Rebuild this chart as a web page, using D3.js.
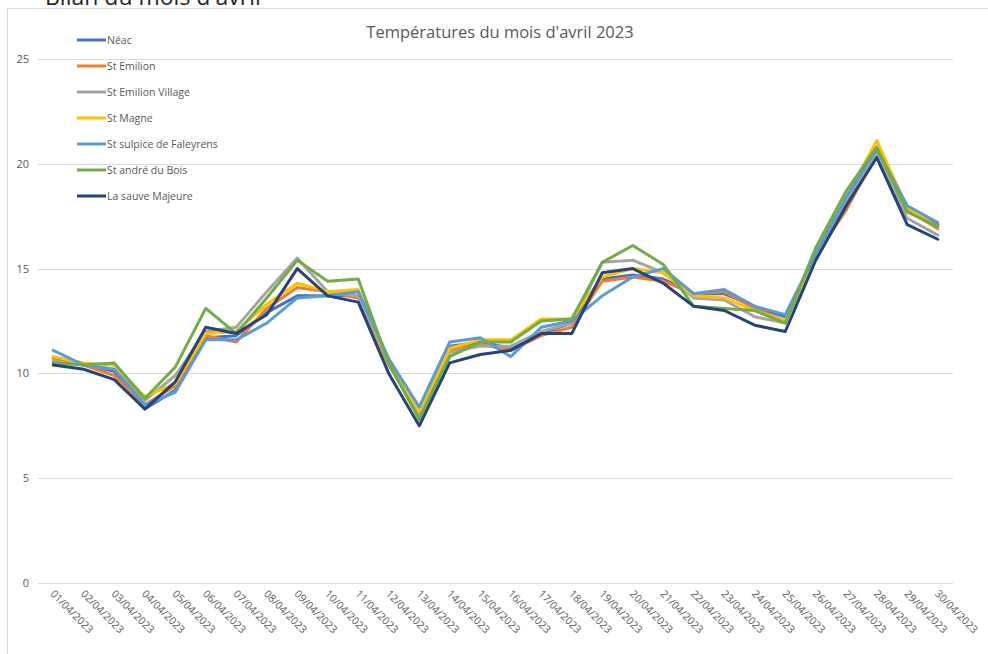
<!DOCTYPE html>
<html><head><meta charset="utf-8">
<script src="https://cdn.jsdelivr.net/npm/d3@7"></script>
<style>body{margin:0;background:#fff;} svg{display:block;font-family:"Open Sans",sans-serif;}</style>
</head><body>
<svg id="c" width="988" height="654"></svg>
<script>
const dates = ["01/04/2023","02/04/2023","03/04/2023","04/04/2023","05/04/2023","06/04/2023","07/04/2023","08/04/2023","09/04/2023","10/04/2023","11/04/2023","12/04/2023","13/04/2023","14/04/2023","15/04/2023","16/04/2023","17/04/2023","18/04/2023","19/04/2023","20/04/2023","21/04/2023","22/04/2023","23/04/2023","24/04/2023","25/04/2023","26/04/2023","27/04/2023","28/04/2023","29/04/2023","30/04/2023"];
const seriesNames = ["Néac","St Emilion","St Emilion Village","St Magne","St sulpice de Faleyrens","St andré du Bois","La sauve Majeure"];
const colors = ["#4472C4","#ED7D31","#A5A5A5","#FFC000","#5B9BD5","#70AD47","#264478"];
const neac     = [10.7,10.4,10.1,8.3,9.2,11.7,11.8,12.9,13.7,13.7,13.7,10.5,7.9,11.3,11.5,11.2,11.9,12.4,14.5,14.7,14.5,13.8,13.8,13.2,12.7,15.7,18.2,20.6,17.8,17.1];
const emilion  = [10.7,10.4,9.9,8.5,9.4,11.8,11.5,13.1,14.1,13.9,13.6,10.4,8.0,11.1,11.4,11.1,11.8,12.2,14.4,14.6,14.4,13.8,13.9,13.1,12.5,15.6,17.8,20.5,17.8,16.9];
const village  = [10.6,10.4,10.2,8.7,9.9,12.0,12.2,13.9,15.5,13.9,13.7,10.5,8.1,11.0,11.3,11.3,12.0,12.4,15.3,15.4,14.8,13.6,13.5,12.7,12.4,15.6,18.3,20.5,17.4,16.6];
const magne    = [10.8,10.5,10.4,8.9,9.5,11.9,12.0,13.3,14.3,13.9,14.0,10.6,8.2,11.2,11.6,11.6,12.6,12.6,14.6,15.0,14.8,13.7,13.6,13.0,12.5,15.8,18.4,21.1,17.9,17.0];
const sulpice  = [11.1,10.4,10.2,8.5,9.1,11.6,11.6,12.4,13.6,13.7,13.9,10.7,8.4,11.5,11.7,10.8,12.2,12.5,13.7,14.6,15.0,13.8,14.0,13.2,12.8,15.7,18.4,20.7,18.0,17.2];
const andre    = [10.5,10.4,10.5,8.8,10.3,13.1,11.9,13.6,15.4,14.4,14.5,10.5,7.8,10.8,11.5,11.5,12.5,12.6,15.3,16.1,15.2,13.2,13.1,13.0,12.4,16.0,18.7,20.8,17.7,17.0];
const sauve    = [10.4,10.2,9.7,8.3,9.6,12.2,11.9,12.8,15.0,13.7,13.4,10.0,7.5,10.5,10.9,11.1,11.9,11.9,14.8,15.0,14.3,13.2,13.0,12.3,12.0,15.4,18.0,20.3,17.1,16.4];
const yTicks = [0,5,10,15,20,25];
const title = "Températures du mois d'avril 2023";
const heading = "Bilan du mois d'avril";

const allSeries = [neac,emilion,village,magne,sulpice,andre,sauve];
const svg = d3.select("#c");
const grey = "#595959";

// outer chart border
svg.append("rect").attr("x",7.5).attr("y",8.5).attr("width",1000).attr("height",700)
  .attr("fill","#fff").attr("stroke","#d9d9d9").attr("stroke-width",1);

// heading above chart (cut off at the top edge, as in the reference)
svg.append("text").attr("x",45).attr("y",5).attr("font-size",23).attr("fill","#262626").text(heading);

const x = d3.scaleBand().domain(dates).range([38,953]);
const y = d3.scaleLinear().domain([0,25]).range([583,59]);

// gridlines
svg.append("g").selectAll("line").data(yTicks).join("line")
  .attr("x1",38).attr("x2",953).attr("y1",d=>Math.round(y(d))+0.5).attr("y2",d=>Math.round(y(d))+0.5)
  .attr("stroke","#d9d9d9").attr("stroke-width",1);

// y axis labels
const yAxis = d3.axisLeft(y).tickValues(yTicks).tickSize(0).tickPadding(0);
const ya = svg.append("g").attr("transform","translate(29,0)").call(yAxis);
ya.select(".domain").remove();
ya.selectAll("text").attr("font-size",11).attr("fill",grey).attr("font-family","'Open Sans',sans-serif");

// x axis labels
const xAxis = d3.axisBottom(x).tickSize(0).tickPadding(0);
const xa = svg.append("g").attr("transform","translate(0,592)").call(xAxis);
xa.select(".domain").remove();
xa.selectAll("text").attr("font-size",10.5).attr("fill",grey).attr("font-family","'Open Sans',sans-serif")
  .attr("text-anchor","start").attr("dy","0.35em").attr("transform","translate(-1,0) rotate(45)");

// lines
const line = d3.line().x((d,i)=>x(dates[i])+x.bandwidth()/2).y(d=>y(d));
svg.append("g").selectAll("path").data(allSeries).join("path")
  .attr("d",line).attr("fill","none").attr("stroke",(d,i)=>colors[i])
  .attr("stroke-width",3).attr("stroke-linejoin","round").attr("stroke-linecap","round");

// title
svg.append("text").attr("x",500).attr("y",38).attr("text-anchor","middle")
  .attr("font-size",16.5).attr("fill",grey).text(title);

// legend
const lg = svg.append("g").selectAll("g").data(seriesNames).join("g")
  .attr("transform",(d,i)=>`translate(77,${40+i*26})`);
lg.append("line").attr("x1",0).attr("x2",29).attr("y1",0).attr("y2",0)
  .attr("stroke",(d,i)=>colors[i]).attr("stroke-width",3);
lg.append("text").attr("x",30).attr("y",0).attr("dy","0.35em").attr("font-size",10.5)
  .attr("fill",grey).text(d=>d);
</script>
</body></html>
